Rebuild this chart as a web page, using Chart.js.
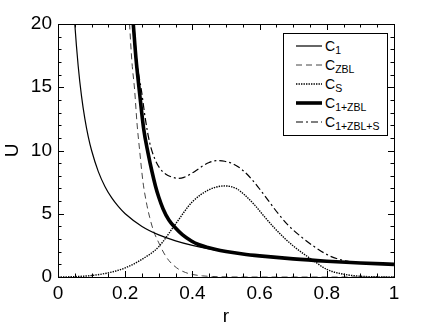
<!DOCTYPE html>
<html>
<head>
<meta charset="utf-8">
<script src="https://cdn.jsdelivr.net/npm/chart.js@4.4.1/dist/chart.umd.min.js"></script>
<style>
  html, body { margin: 0; padding: 0; background: #fff; }
  #wrap { position: relative; width: 436px; height: 330px; }
  #legend {
    position: absolute; left: 283px; top: 33px; width: 105px; height: 103px;
    box-sizing: border-box; border: 1px solid #000; background: #fff;
    font-family: 'Liberation Sans', Arial, sans-serif; font-size: 14px; color: #000;
  }
  .item { position: absolute; left: 0; height: 18px; display: flex; align-items: center; }
  .item svg { margin-left: 12px; width: 26px; height: 10px; }
  .item span { margin-left: 3px; line-height: 18px; white-space: nowrap; }
  .item sub { font-size: 10.5px; vertical-align: -3px; line-height: 0; }
</style>
</head>
<body>
<div id="wrap">
  <canvas id="chart"></canvas>
  <div id="legend"></div>
</div>
<script>
// ─── DATA ─────────────────────────────────────────────────────────────────
const R_C1 = [0.045, 0.05, 0.06, 0.07, 0.08, 0.09, 0.1, 0.12, 0.14, 0.16, 0.18, 0.2, 0.25, 0.3, 0.35, 0.4, 0.45, 0.5, 0.6, 0.7, 0.8, 0.9, 1.0];
const U_C1 = [22.2, 20, 16.7, 14.3, 12.5, 11.1, 10, 8.33, 7.14, 6.25, 5.56, 5, 4, 3.33, 2.86, 2.5, 2.22, 2, 1.67, 1.43, 1.25, 1.11, 1];

const R_ZBL = [0.205, 0.213, 0.22, 0.228, 0.235, 0.243, 0.253, 0.263, 0.273, 0.285, 0.3, 0.315, 0.33, 0.345, 0.36, 0.38, 0.4, 0.43, 0.46, 0.5, 0.6, 0.8, 1.0];
const U_ZBL = [24, 20, 17, 14.8, 12.2, 10, 7.5, 5.9, 4.7, 3.6, 2.7, 1.9, 1.3, 0.9, 0.6, 0.35, 0.2, 0.09, 0.04, 0.01, 0, 0, 0];

const R_S = [0, 0.05, 0.1, 0.15, 0.2, 0.25, 0.3, 0.35, 0.4, 0.45, 0.495, 0.53, 0.555, 0.585, 0.615, 0.645, 0.675, 0.705, 0.73, 0.76, 0.8, 0.85, 0.9, 0.95, 1.0];
const U_S = [0, 0.03, 0.12, 0.33, 0.72, 1.4, 2.4, 4.2, 5.95, 6.9, 7.2, 7.0, 6.5, 5.7, 4.75, 3.85, 3.05, 2.35, 1.85, 1.3, 0.6, 0.22, 0.06, 0.015, 0];

const R_1ZBL = [0.218, 0.224, 0.232, 0.243, 0.255, 0.268, 0.28, 0.29, 0.3, 0.3125, 0.33, 0.347, 0.37, 0.397, 0.42, 0.446, 0.47, 0.5, 0.55, 0.6, 0.7, 0.8, 0.9, 1.0];
const U_1ZBL = [22, 20, 17.3, 14.5, 11.7, 9.8, 8.3, 7.2, 6.3, 5.4, 4.5, 3.95, 3.35, 2.85, 2.55, 2.33, 2.17, 2.02, 1.82, 1.67, 1.43, 1.25, 1.11, 1.0];

const R_1ZBLS = [0.222, 0.226, 0.235, 0.248, 0.26, 0.273, 0.288, 0.303, 0.32, 0.337, 0.357, 0.375, 0.392, 0.41, 0.432, 0.45, 0.471, 0.496, 0.516, 0.536, 0.565, 0.595, 0.625, 0.655, 0.685, 0.724, 0.76, 0.81, 0.86, 0.9, 0.95, 1.0];
const U_1ZBLS = [22, 20, 17, 14.8, 12.5, 10.6, 9.35, 8.6, 8.15, 7.92, 7.8, 7.88, 8.1, 8.4, 8.8, 9.05, 9.2, 9.15, 9.0, 8.72, 8.06, 7.13, 6.08, 5.02, 4.1, 3.17, 2.45, 1.65, 1.25, 1.13, 1.06, 1.0];

const X_TICK_STEP = 0.2;
const Y_TICK_STEP = 5;

// ─── SERIES STYLE ─────────────────────────────────────────────────────────
const SERIES = [
  { name: ['C', '1'],       r: R_C1,    u: U_C1,    width: 1.2, dash: [],           color: '#000' },
  { name: ['C', 'ZBL'],     r: R_ZBL,   u: U_ZBL,   width: 1,   dash: [6, 4],       color: '#444' },
  { name: ['C', 'S'],       r: R_S,     u: U_S,     width: 1.4, dash: [1.4, 1.1],   color: '#000' },
  { name: ['C', '1+ZBL'],   r: R_1ZBL,  u: U_1ZBL,  width: 3.6, dash: [],           color: '#000' },
  { name: ['C', '1+ZBL+S'], r: R_1ZBLS, u: U_1ZBLS, width: 1.2, dash: [7, 3, 2, 3], color: '#000' },
];

const FONT = "'Liberation Sans', Arial, sans-serif";

function pts(rs, us) { return rs.map((r, i) => ({ x: r, y: us[i] })); }

// inside ticks + closed box, like the original plot
const frameTicks = {
  id: 'frameTicks',
  afterDatasetsDraw(chart) {
    const { ctx, chartArea: a, scales: { x, y } } = chart;
    ctx.save();
    ctx.strokeStyle = '#000';
    ctx.lineWidth = 1;
    ctx.beginPath();
    for (let i = 0; i <= 20; i++) {
      const px = Math.round(x.getPixelForValue(i * 0.05)) + 0.5;
      const len = i % 4 === 0 ? 6 : 3.5;
      ctx.moveTo(px, a.bottom); ctx.lineTo(px, a.bottom - len);
      ctx.moveTo(px, a.top); ctx.lineTo(px, a.top + len);
    }
    for (let i = 0; i <= 20; i++) {
      const py = Math.round(y.getPixelForValue(i)) + 0.5;
      const len = i % 5 === 0 ? 6 : 3.5;
      ctx.moveTo(a.left, py); ctx.lineTo(a.left + len, py);
      ctx.moveTo(a.right, py); ctx.lineTo(a.right - len, py);
    }
    ctx.stroke();
    ctx.strokeRect(Math.round(a.left) + 0.5, Math.round(a.top) + 0.5,
                   Math.round(a.right - a.left), Math.round(a.bottom - a.top));
    ctx.restore();
  }
};

new Chart(document.getElementById('chart'), {
  type: 'line',
  data: {
    datasets: SERIES.map((s, i) => ({
      label: s.name.join(''),
      data: pts(s.r, s.u),
      borderColor: s.color,
      borderWidth: s.width,
      borderDash: s.dash,
      pointRadius: 0,
      fill: false,
      cubicInterpolationMode: 'monotone',
      clip: { left: 0, top: 0, right: 0, bottom: 2 },
      order: i === 3 ? 0 : 1
    }))
  },
  options: {
    responsive: true, maintainAspectRatio: false, animation: false,
    layout: { padding: { left: 0, top: 24, right: 42, bottom: 0 } },
    plugins: { legend: { display: false }, tooltip: { enabled: false } },
    scales: {
      x: {
        type: 'linear', min: 0, max: 1,
        afterFit: s => { s.height = 53; },
        grid: { display: false, drawTicks: false },
        border: { display: true, color: '#000', width: 1 },
        ticks: { stepSize: X_TICK_STEP, padding: 5, color: '#000', maxRotation: 0,
                 font: { family: FONT, size: 19 },
                 callback: v => String(Math.round(v * 10) / 10) },
        title: { display: true, text: 'r', color: '#000', padding: { top: 0, bottom: 2 },
                 font: { family: FONT, size: 19 } }
      },
      y: {
        min: 0, max: 20,
        afterFit: s => { s.width = 58; },
        grid: { display: false, drawTicks: false },
        border: { display: true, color: '#000', width: 1 },
        ticks: { stepSize: Y_TICK_STEP, padding: 6, color: '#000',
                 font: { family: FONT, size: 19 } },
        title: { display: true, text: 'U', color: '#000', padding: { top: 1, bottom: 0 },
                 font: { family: FONT, size: 19 } }
      }
    }
  },
  plugins: [frameTicks]
});

// ─── LEGEND (html so the subscripts stay real text) ───────────────────────
const leg = document.getElementById('legend');
SERIES.forEach((s, i) => {
  const dash = s.dash.length ? `stroke-dasharray="${s.dash.join(' ')}"` : '';
  leg.innerHTML += `
    <div class="item" style="top:${3 + i * 19}px">
      <svg viewBox="0 0 26 10"><line x1="0" y1="5" x2="26" y2="5" stroke="${s.color}" stroke-width="${s.width}" ${dash}/></svg>
      <span>${s.name[0]}<sub>${s.name[1]}</sub></span>
    </div>`;
});
</script>
</body>
</html>
